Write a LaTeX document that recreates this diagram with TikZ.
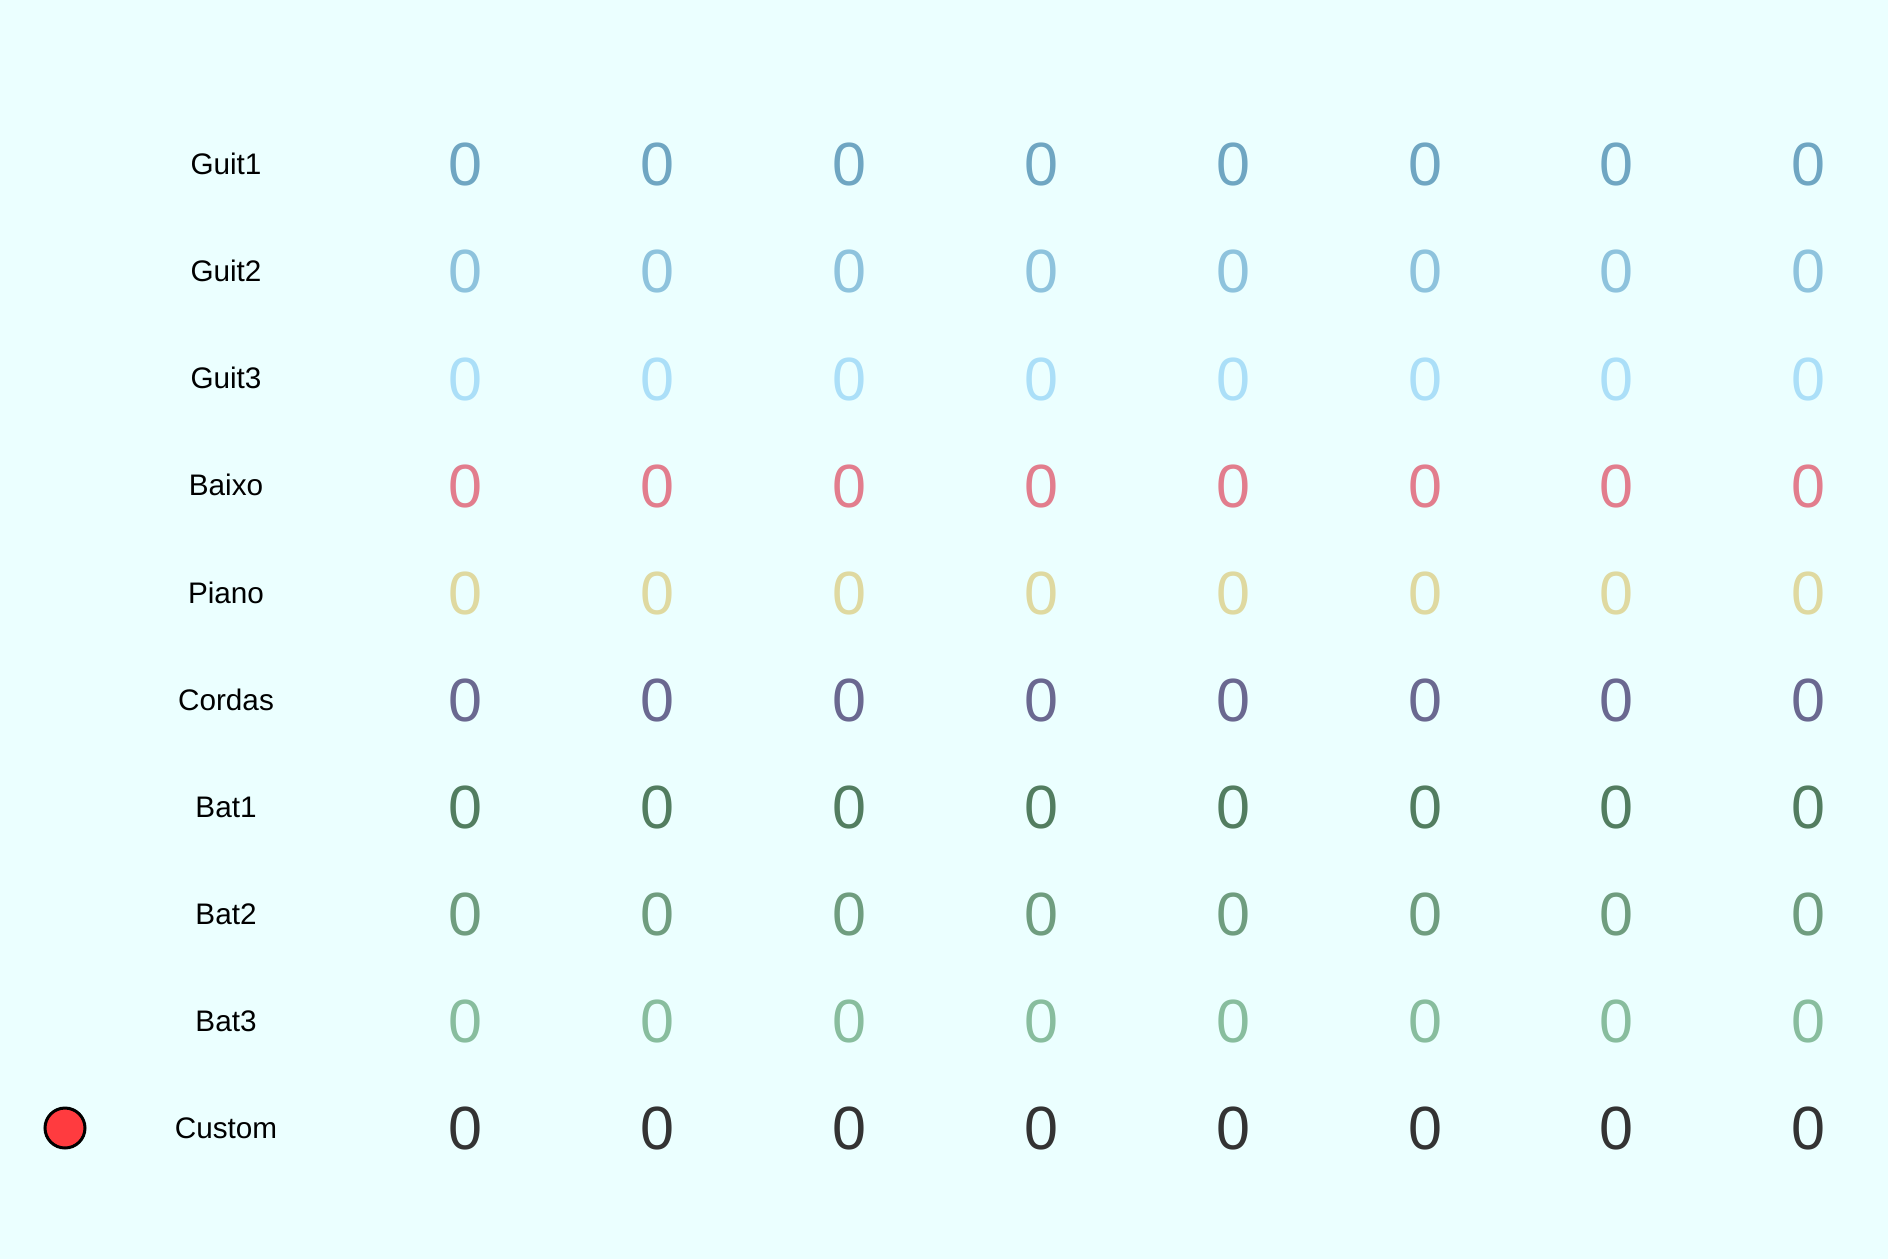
\documentclass[tikz,border=0pt]{standalone}
\usepackage{fontspec}
\setmainfont{Liberation Sans}
\definecolor{bgc}{HTML}{EBFFFF}
\definecolor{cGuitA}{HTML}{6FA6C2}
\definecolor{cGuitB}{HTML}{8EC3DD}
\definecolor{cGuitC}{HTML}{ABDFF8}
\definecolor{cBaixo}{HTML}{E27D8D}
\definecolor{cPiano}{HTML}{DFD9A0}
\definecolor{cCordas}{HTML}{6A6890}
\definecolor{cBatA}{HTML}{527D60}
\definecolor{cBatB}{HTML}{6F9D7F}
\definecolor{cBatC}{HTML}{88BD9E}
\definecolor{cCustom}{HTML}{333333}
\definecolor{dotred}{HTML}{FF3B3F}
\begin{document}
\begin{tikzpicture}[x=1pt,y=-1pt,
  rowlabel/.style={font=\fontsize{29.7}{32}\selectfont, text=black, inner sep=0pt, text height=21.3pt, text depth=0pt, anchor=center},
  zerocell/.style={font=\fontsize{61}{64}\selectfont, inner sep=0pt, text height=43.7pt, text depth=0pt, anchor=center},
  reddot/.style={circle, draw=black, line width=3pt, fill=dotred, minimum size=40pt, inner sep=0pt}]
\fill[bgc] (0,0) rectangle (1888,1259);
\useasboundingbox (0,0) rectangle (1888,1259);
\foreach \name/\col [count=\i from 0] in {Guit1/cGuitA,Guit2/cGuitB,Guit3/cGuitC,Baixo/cBaixo,Piano/cPiano,Cordas/cCordas,Bat1/cBatA,Bat2/cBatB,Bat3/cBatC,Custom/cCustom}{
  \pgfmathsetmacro{\yy}{164+107.1*\i}
  \node[rowlabel] (lab\i) at (226,\yy) {\name};
  \foreach \j in {0,...,7}{
    \pgfmathsetmacro{\xx}{465.5+191.9*\j}
    \node[zerocell, text=\col] (z\i-\j) at (\xx,\yy) {0};
  }
}
\node[reddot] (dot) at (65,1128) {};
\end{tikzpicture}
\end{document}
